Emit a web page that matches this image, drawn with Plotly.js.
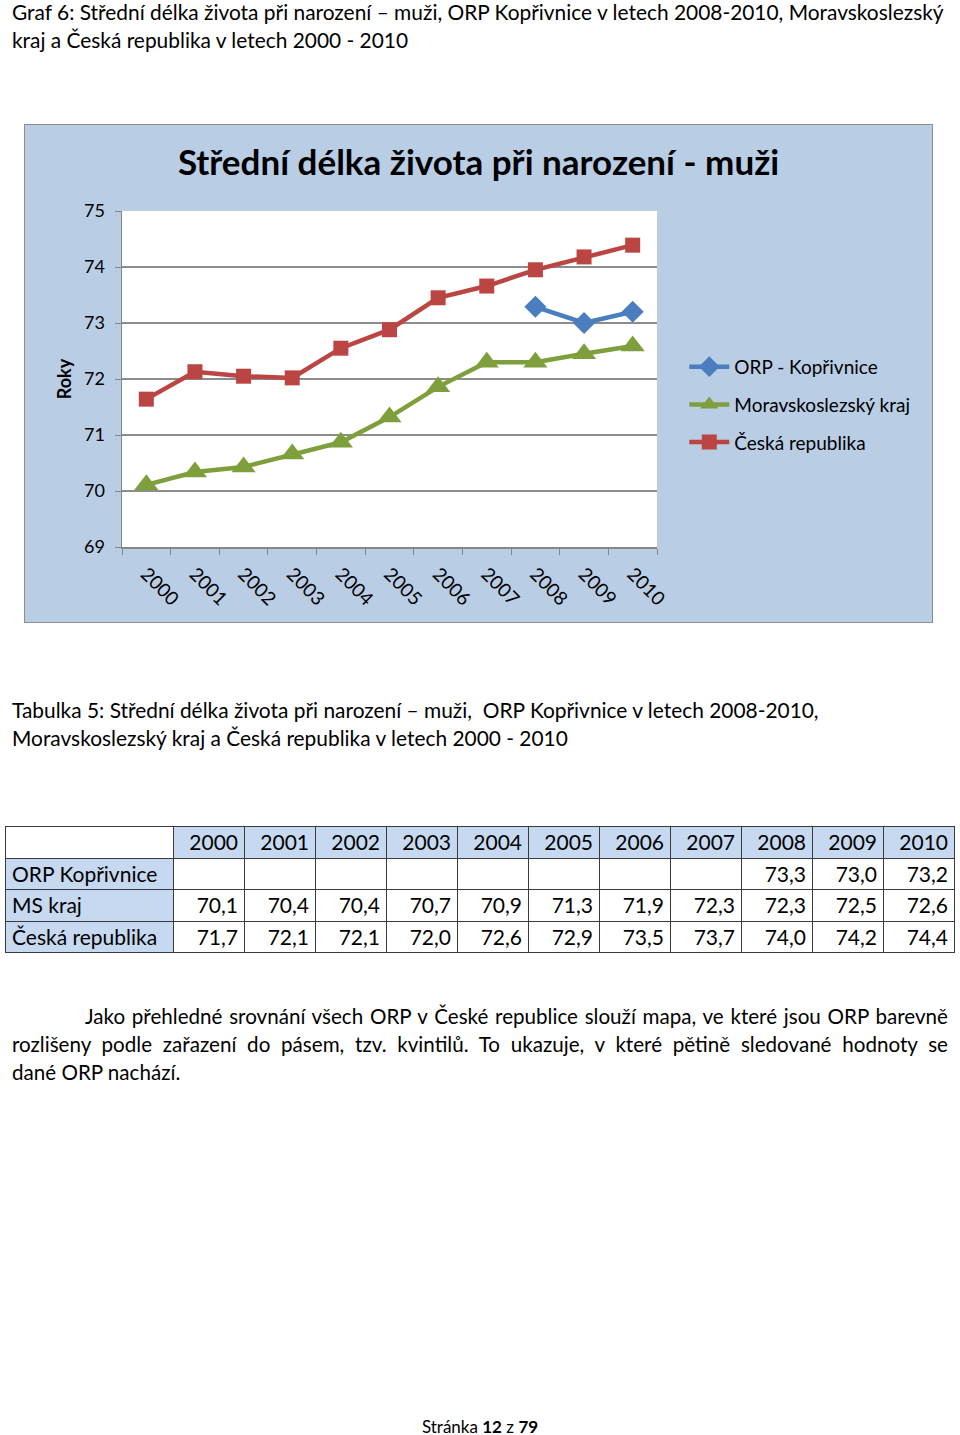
<!DOCTYPE html>
<html>
<head>
<meta charset="utf-8">
<script src="https://cdn.plot.ly/plotly-3.0.1.min.js"></script>
<style>
  html, body { margin:0; padding:0; background:#fff; }
  body { width:960px; height:1435px; position:relative; font-family:Lato, "Open Sans", sans-serif; color:#000; overflow:hidden; }
  .abs { position:absolute; white-space:nowrap; }
  .cap { font-size:20.9px; line-height:28px; left:12px; }
  #chartbox { position:absolute; left:24px; top:124px; width:907px; height:497px; border:1.5px solid #8e8e8e; }
  #chart { width:907px; height:497px; }
  table { position:absolute; left:5px; top:826px; border-collapse:collapse; font-size:21px; }
  td { border:1.5px solid #3a3a3a; height:30.5px; padding:0 6px; text-align:right; line-height:30px; }
  td.lab { text-align:left; width:155px; background:#c6d9f1; }
  td.hd { background:#c6d9f1; }
  td.num { width:58px; }
  .para { left:12px; width:936px; font-size:20.6px; line-height:28px; }
  .jl { text-align:justify; text-align-last:justify; white-space:normal; }
</style>
</head>
<body>
<div class="abs cap" style="top:-2px;">Graf 6: Střední délka života při narození – muži, ORP Kopřivnice v letech 2008-2010, Moravskoslezský<br>kraj a Česká republika v letech 2000 - 2010</div>

<div id="chartbox"><div id="chart"></div></div>

<div class="abs cap" style="top:696px;">Tabulka 5: Střední délka života při narození – muži,&nbsp; ORP Kopřivnice v letech 2008-2010,<br>Moravskoslezský kraj a Česká republika v letech 2000 - 2010</div>

<table id="tbl"></table>

<div class="abs para" style="top:1002px;">
  <div class="jl" style="padding-left:73px;">Jako přehledné srovnání všech ORP v České republice slouží mapa, ve které jsou ORP barevně</div>
  <div class="jl">rozlišeny podle zařazení do pásem, tzv. kvintilů. To ukazuje, v které pětině sledované hodnoty se</div>
  <div>dané ORP nachází.</div>
</div>

<div class="abs" style="left:0; width:960px; text-align:center; top:1416px; font-size:17px;">Stránka <b>12</b> z <b>79</b></div>

<script>
// ---- data ----
const years = ["2000","2001","2002","2003","2004","2005","2006","2007","2008","2009","2010"];
const seriesNames = ["ORP - Kopřivnice","Moravskoslezský kraj","Česká republika"];
const rowLabels = ["ORP Kopřivnice","MS kraj","Česká republika"];
// values as plotted in the chart
const orpValues = [null,null,null,null,null,null,null,null,73.29,73.0,73.2];
const msValues  = [70.11,70.34,70.43,70.66,70.87,71.32,71.86,72.3,72.3,72.45,72.59];
const crValues  = [71.64,72.13,72.05,72.02,72.55,72.88,73.45,73.66,73.95,74.18,74.39];
// values as printed in the table
const orpTable = ["","","","","","","","","73,3","73,0","73,2"];
const msTable  = ["70,1","70,4","70,4","70,7","70,9","71,3","71,9","72,3","72,3","72,5","72,6"];
const crTable  = ["71,7","72,1","72,1","72,0","72,6","72,9","73,5","73,7","74,0","74,2","74,4"];
const yTicks = [69,70,71,72,73,74,75];

// ---- table ----
(function(){
  const t = document.getElementById('tbl');
  let h = '<tr><td class="lab" style="background:#fff"></td>';
  years.forEach(y => h += '<td class="hd num">'+y+'</td>');
  h += '</tr>';
  [orpTable, msTable, crTable].forEach((row,i) => {
    h += '<tr><td class="lab">'+rowLabels[i]+'</td>';
    row.forEach(v => h += '<td class="num">'+v+'</td>');
    h += '</tr>';
  });
  t.innerHTML = h;
})();

// ---- chart ----
const F = 'Lato, "Open Sans", sans-serif';
const traces = [
  {x:years, y:orpValues, name:seriesNames[0], legendgroup:'a', mode:'lines+markers', connectgaps:false,
   line:{color:'#4a7ebf', width:4.5}, marker:{symbol:'diamond', size:17, color:'#4a7ebf'}},
  {x:years, y:msValues, name:seriesNames[1], legendgroup:'b', mode:'lines+markers',
   line:{color:'#7f9f3d', width:4.5}, marker:{symbol:'triangle-up', size:21, color:'#7f9f3d'}},
  {x:years, y:crValues, name:seriesNames[2], legendgroup:'c', mode:'lines+markers',
   line:{color:'#bb4542', width:4.5}, marker:{symbol:'square', size:15, color:'#bb4542'}}
];
const layout = {
  width:907, height:497,
  paper_bgcolor:'#b9cde5', plot_bgcolor:'#ffffff',
  margin:{l:97, r:275, t:86, b:75},
  font:{family:F, color:'#000', size:18},
  title:{text:'<b>Střední délka života při narození - muži</b>', font:{family:F, size:35, color:'#000'},
         x:0.5, xanchor:'center', y:1-38/497, yanchor:'middle'},
  xaxis:{type:'category', range:[-0.5,10.5], showgrid:false, showline:true, linecolor:'#868686', linewidth:1.5,
         ticks:'outside', tickson:'boundaries', ticklen:6, tickcolor:'#868686', tickangle:45,
         tickfont:{size:19}, fixedrange:true, ticklabelstandoff:7},
  yaxis:{range:[69,75], tickvals:yTicks, showgrid:true, gridcolor:'#8c8c8c', gridwidth:1.5,
         showline:true, linecolor:'#868686', linewidth:1.5, ticks:'outside', ticklen:6, tickcolor:'#868686',
         tickfont:{size:18}, zeroline:false, fixedrange:true, ticklabelstandoff:6},
  showlegend:true,
  legend:{x:1.051, xanchor:'left', y:0.423, yanchor:'middle', bgcolor:'rgba(0,0,0,0)',
          font:{family:F, size:19}, traceorder:'grouped', tracegroupgap:10, itemwidth:40},
  annotations:[{text:'<b>Roky</b>', xref:'paper', yref:'paper', x:-0.108, y:0.5, xanchor:'center', yanchor:'middle',
                textangle:-90, showarrow:false, font:{family:F, size:18}}]
};
Plotly.newPlot('chart', traces, layout, {displayModeBar:false, staticPlot:true});
</script>
</body>
</html>
